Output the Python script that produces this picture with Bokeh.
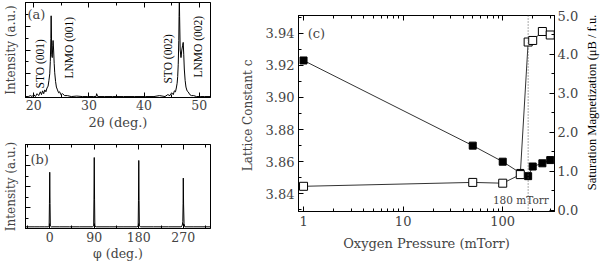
import math
from bokeh.plotting import figure
from bokeh.layouts import row, column
from bokeh.models import (Range1d, LinearAxis, LogAxis, LogTicker, SingleIntervalTicker,
                          FixedTicker, NumeralTickFormatter, CustomJSTickFormatter, Label, Span)
from bokeh.embed import file_html
from bokeh.resources import INLINE

FONT = "DejaVu Serif"

# ---------------- data ----------------
# (a) theta-2theta scan
two_theta_a = [18.5, 19.0, 19.4, 19.7, 20.0, 20.3, 20.6, 20.9, 21.2, 21.4, 21.6, 21.8, 22.0, 22.2,
               22.4, 22.6, 22.75, 22.9, 23.0, 23.1, 23.15, 23.2, 23.25, 23.35, 23.45, 23.5, 23.6,
               23.7, 23.8, 23.95, 24.1, 24.3, 24.5, 24.7, 24.9, 25.2, 25.6, 26.1, 26.8, 27.8, 28.8,
               29.8, 30.8, 31.3, 31.4, 31.6, 32.8, 34.3, 36.3, 38.3, 40.3, 41.8, 42.8, 43.8, 44.3,
               44.7, 45.0, 45.3, 45.5, 45.7, 45.85, 46.0, 46.1, 46.2, 46.3, 46.35, 46.4, 46.45,
               46.55, 46.7, 46.85, 47.0, 47.1, 47.2, 47.3, 47.45, 47.6, 47.8, 48.0, 48.3, 48.6,
               49.0, 49.5, 50.3, 51.0, 52.05]
intensity_a = [0.01, 0.01, 0.02, 0.01, 0.03, 0.01, 0.04, 0.02, 0.06, 0.03, 0.07, 0.04, 0.08, 0.06,
               0.10, 0.12, 0.18, 0.25, 0.38, 0.62, 0.86, 0.70, 0.45, 0.42, 0.55, 0.60, 0.50,
               0.36, 0.26, 0.17, 0.11, 0.08, 0.05, 0.06, 0.03, 0.04, 0.02, 0.02, 0.01, 0.015, 0.01,
               0.01, 0.01, 0.01, 0.04, 0.01, 0.01, 0.01, 0.01, 0.01, 0.01, 0.01, 0.02, 0.01, 0.03,
               0.02, 0.05, 0.03, 0.07, 0.06, 0.10, 0.15, 0.22, 0.35, 0.60, 0.85, 1.05, 0.85,
               0.50, 0.42, 0.50, 0.55, 0.58, 0.45, 0.30, 0.18, 0.11, 0.07, 0.06, 0.03, 0.02,
               0.02, 0.01, 0.01, 0.01, 0.01]
a_ticks = [20, 30, 40, 50]
a_minor = [25, 35, 45]
a_peak_labels = ["STO (001)", "LNMO (001)", "STO (002)", "LNMO (002)"]
a_label_x = [21.15, 26.3, 44.4, 49.7]
a_label_y = [0.095, 0.20, 0.147, 0.21]

# (b) phi scan
phi_b = [-49, -30, -20, -10, -3, -1.2, -0.6, 0, 0.6, 1.2, 3, 20, 40, 60, 86, 88.8, 89.4, 90,
         90.6, 91.2, 94, 120, 150, 176, 178.8, 179.4, 180, 180.6, 181.2, 184, 210, 240, 266, 268,
         269, 269.6, 270, 270.6, 271.5, 273, 290, 325]
intensity_b = [0.02, 0.02, 0.02, 0.02, 0.02, 0.03, 0.30, 0.67, 0.30, 0.03, 0.02, 0.02, 0.02, 0.02,
               0.02, 0.03, 0.35, 0.845, 0.35, 0.03, 0.02, 0.02, 0.02, 0.02, 0.03, 0.33, 0.81, 0.33,
               0.03, 0.02, 0.02, 0.02, 0.02, 0.04, 0.08, 0.30, 0.60, 0.28, 0.06, 0.02, 0.02, 0.02]
b_ticks = [0, 90, 180, 270]
b_minor = [-45, 45, 135, 225, 315]

# (c) lattice constant and magnetization vs oxygen pressure
pressure = [1, 50, 100, 150, 180, 200, 250, 300]
lattice_c = [3.923, 3.870, 3.860, 3.853, 3.851, 3.857, 3.859, 3.861]
saturation_m = [0.62, 0.72, 0.70, 0.92, 4.32, 4.36, 4.59, 4.50]
critical_pressure = 180
right_axis_title = ["Saturation Magnetization (μB / f.u.)"]


def blank():
    return CustomJSTickFormatter(code="return ''")


def style_axis(ax, size="12.5px", label_size="12px"):
    ax.axis_label_text_font = FONT
    ax.axis_label_text_font_style = "normal"
    ax.axis_label_text_font_size = label_size
    ax.major_label_text_font = FONT
    ax.major_label_text_font_size = size
    ax.major_tick_in = 5
    ax.major_tick_out = 0
    ax.minor_tick_in = 3
    ax.minor_tick_out = 0
    ax.axis_line_color = "black"
    ax.major_tick_line_color = "black"
    ax.minor_tick_line_color = "black"


def base_fig(**kw):
    p = figure(output_backend="svg", toolbar_location=None, **kw)
    p.xgrid.visible = False
    p.ygrid.visible = False
    p.outline_line_color = "black"
    p.outline_line_width = 1
    p.background_fill_color = "white"
    p.border_fill_color = "white"
    return p


# ---------------- panel (a) ----------------
pa = base_fig(width=225, height=132, x_range=Range1d(18.5, 52.05), y_range=Range1d(0, 1),
              min_border_left=23, min_border_right=13, min_border_top=2, min_border_bottom=35)
pa.line(two_theta_a, intensity_a, line_color="black", line_width=1)
xa = pa.below[0]
ya = pa.left[0]
xa.ticker = FixedTicker(ticks=a_ticks, minor_ticks=a_minor)
xa.axis_label = "2θ (deg.)"
ya.ticker = SingleIntervalTicker(interval=0.25, num_minor_ticks=2)
ya.formatter = blank()
ya.axis_label = "Intensity (a.u.)"
ta = LinearAxis(ticker=FixedTicker(ticks=a_ticks, minor_ticks=a_minor), formatter=blank())
pa.add_layout(ta, "above")
for ax in [xa, ya, ta]:
    style_axis(ax)
xa.axis_label_text_font_size = "13px"
xa.major_label_standoff = 2
xa.axis_label_standoff = 2
for ax in [ya, ta]:
    ax.major_label_text_font_size = "0px"
    ax.major_label_standoff = 0
ya.axis_label_standoff = 8
pa.text(x=a_label_x, y=a_label_y, text=a_peak_labels, angle=math.pi / 2, text_align="left",
        text_baseline="middle", text_font=FONT, text_font_size="11.5px", text_color="black")
pa.add_layout(Label(x=18.85, y=0.95, text="(a)", text_font=FONT, text_font_size="13px",
                    text_baseline="top", text_align="left"))

# ---------------- panel (b) ----------------
pb = base_fig(width=225, height=131, x_range=Range1d(-49, 325), y_range=Range1d(0, 1),
              min_border_left=23, min_border_right=15, min_border_top=12, min_border_bottom=33)
pb.line(phi_b, intensity_b, line_color="black", line_width=1)
xb = pb.below[0]
yb = pb.left[0]
xb.ticker = FixedTicker(ticks=b_ticks, minor_ticks=b_minor)
xb.axis_label = "φ (deg.)"
yb.ticker = SingleIntervalTicker(interval=0.25, num_minor_ticks=2)
yb.formatter = blank()
yb.axis_label = "Intensity (a.u.)"
tb = LinearAxis(ticker=FixedTicker(ticks=b_ticks, minor_ticks=b_minor), formatter=blank())
pb.add_layout(tb, "above")
for ax in [xb, yb, tb]:
    style_axis(ax)
xb.axis_label_text_font_size = "12.5px"
xb.major_label_standoff = 3
xb.axis_label_standoff = 1
for ax in [yb, tb]:
    ax.major_label_text_font_size = "0px"
    ax.major_label_standoff = 0
yb.axis_label_standoff = 8
pb.add_layout(Label(x=-39, y=0.91, text="(b)", text_font=FONT, text_font_size="13px",
                    text_baseline="top", text_align="left"))

# ---------------- panel (c) ----------------
pc = base_fig(width=356, height=263, x_axis_type="log", x_range=Range1d(0.89, 331),
              y_range=Range1d(3.829, 3.951),
              min_border_left=73, min_border_right=26, min_border_top=15, min_border_bottom=52)
pc.extra_y_ranges = {"mag": Range1d(-0.026, 5.0)}
pc.add_layout(Span(location=critical_pressure, dimension="height", line_color="#555555",
                   line_dash="1 2", line_width=1))
pc.line(pressure, lattice_c, line_color="#333333", line_width=1)
pc.line(pressure, saturation_m, line_color="#333333", line_width=1, y_range_name="mag")
pc.scatter(pressure, lattice_c, marker="square", size=7, fill_color="black", line_color="black")
pc.scatter(pressure, saturation_m, marker="square", size=8, fill_color="white",
           line_color="black", line_width=1, y_range_name="mag")

xc = pc.below[0]
yc = pc.left[0]
xc.ticker = LogTicker(num_minor_ticks=10)
xc.formatter = NumeralTickFormatter(format="0")
xc.axis_label = "Oxygen Pressure (mTorr)"
yc.ticker = SingleIntervalTicker(interval=0.02, num_minor_ticks=2)
yc.formatter = NumeralTickFormatter(format="0.00")
yc.axis_label = "Lattice Constant  c"
ry = LinearAxis(y_range_name="mag", ticker=SingleIntervalTicker(interval=1, num_minor_ticks=2),
                formatter=NumeralTickFormatter(format="0.0"))
pc.add_layout(ry, "right")
tc = LogAxis(ticker=LogTicker(num_minor_ticks=10), formatter=blank())
pc.add_layout(tc, "above")
for ax in [xc, yc, ry, tc]:
    style_axis(ax, size="13px", label_size="12px")
xc.axis_label_text_font_size = "13px"
xc.major_label_standoff = 4
xc.axis_label_standoff = 7
yc.major_label_standoff = 4
yc.axis_label_standoff = 8
ry.major_label_standoff = 3
tc.major_label_text_font_size = "0px"
tc.major_label_standoff = 0
pc.add_layout(Label(x=1.1, y=3.9445, text="(c)", text_font=FONT, text_font_size="13px",
                    text_baseline="top", text_align="left"))
pc.add_layout(Label(x=290, y=3.8363, text="180 mTorr", text_font=FONT, text_font_size="10.5px",
                    text_baseline="middle", text_align="right"))

# ---------------- right-axis title strip ----------------
pr = figure(width=25, height=263, output_backend="svg", toolbar_location=None,
            x_range=Range1d(0, 1), y_range=Range1d(0, 1), x_axis_location=None,
            y_axis_location=None, min_border=0)
pr.xgrid.visible = False
pr.ygrid.visible = False
pr.outline_line_color = None
pr.text(x=[0.42], y=[0.567], text=right_axis_title, angle=math.pi / 2, text_align="center",
        text_baseline="middle", text_font=FONT, text_font_size="12.5px", text_color="black")

layout = row(column(pa, pb), pc, pr)
open("out.html", "w").write(file_html(layout, INLINE))
